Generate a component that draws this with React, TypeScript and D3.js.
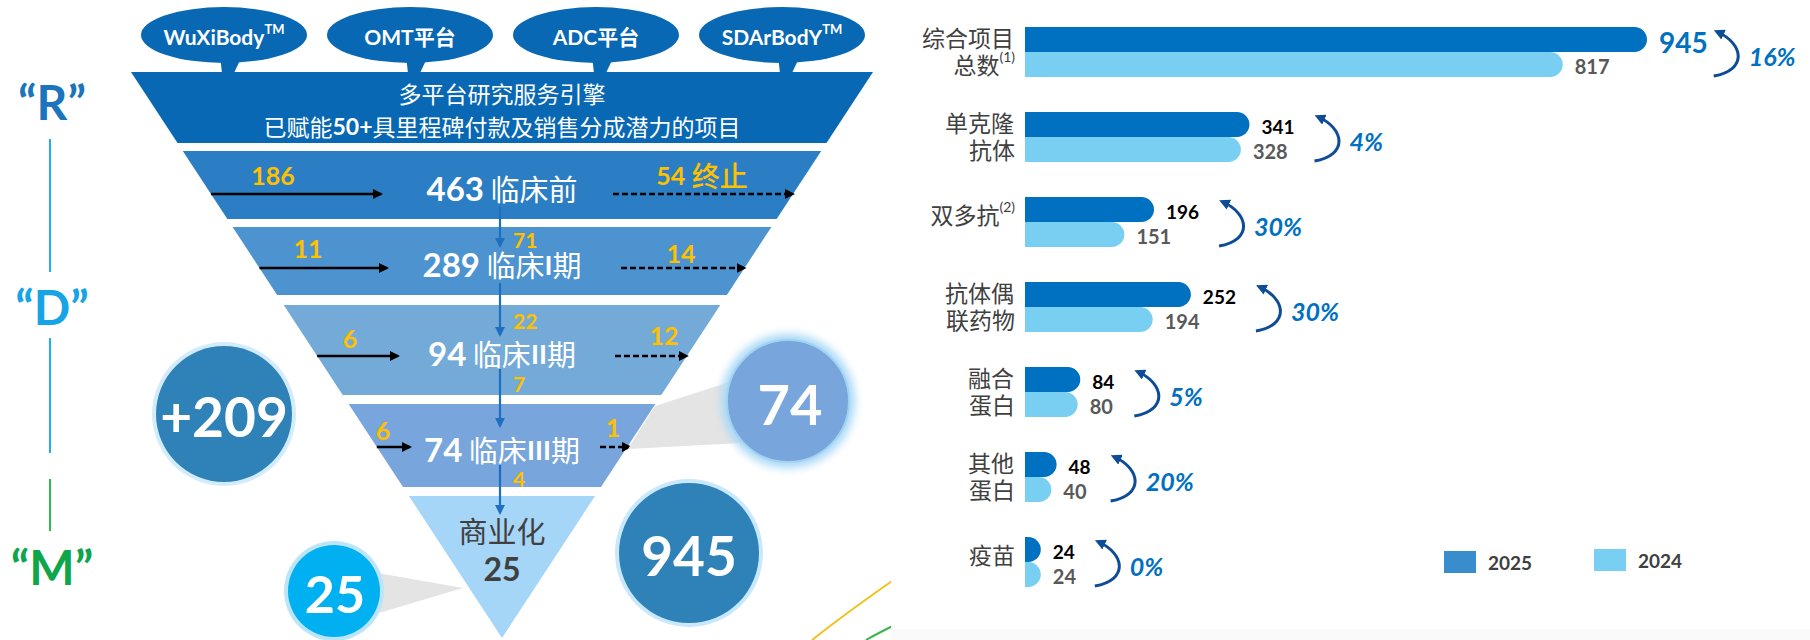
import React from 'react';
import * as d3 from 'd3';

// ---------- data ----------
const categories = ['综合项目总数', '单克隆抗体', '双多抗', '抗体偶联药物', '融合蛋白', '其他蛋白', '疫苗'];
const categoryLines = [['综合项目', '总数'], ['单克隆', '抗体'], ['双多抗'], ['抗体偶', '联药物'], ['融合', '蛋白'], ['其他', '蛋白'], ['疫苗']];
const categoryNotes = ['(1)', '', '(2)', '', '', '', ''];
const values2025 = [945, 341, 196, 252, 84, 48, 24];
const values2024 = [817, 328, 151, 194, 80, 40, 24];
const growthLabels = ['16%', '4%', '30%', '30%', '5%', '20%', '0%'];
const legendLabels = ['2025', '2024'];

const platforms = ['WuXiBody', 'OMT平台', 'ADC平台', 'SDArBodY'];
const platformMarks = ['TM', '', '', 'TM'];
const engineLine1 = '多平台研究服务引擎';
const engineLine2 = ['已赋能', '50+', '具里程碑付款及销售分成潜力的项目'];
const stageNames = ['临床前', '临床I期', '临床II期', '临床III期'];
const stageCounts = [463, 289, 94, 74];
const stageIn = ['186', '11', '6', '6'];
const stageOutNum = ['54', '14', '12', '1'];
const stageOutNote = ['终止', '', '', ''];
const stageAdvance = ['71', '22', '7', '4'];
const commercialLabel = '商业化';
const commercialCount = '25';
const rdmLetters = ['“R”', '“D”', '“M”'];
const bubbleValues = ['+209', '74', '945', '25'];

const FONT = "Lato, 'Noto Sans CJK SC', sans-serif";
const CJK = "'Noto Sans CJK SC', Lato, sans-serif";

function roundedRight(x0: number, y0: number, w: number, h: number, r0: number) {
  const r = Math.max(0, Math.min(r0, w, h / 2));
  return `M${x0},${y0}H${x0 + w - r}A${r},${r} 0 0 1 ${x0 + w},${y0 + r}V${y0 + h - r}A${r},${r} 0 0 1 ${x0 + w - r},${y0 + h}H${x0}Z`;
}

export default function App() {
  // ---------- funnel geometry ----------
  const cx = 502;
  const leftEdge = d3.scaleLinear().domain([72, 638]).range([131, cx]);
  const rightEdge = (yy: number) => 2 * cx - leftEdge(yy);
  const bands: [number, number][] = [[72, 143], [151, 219], [227, 295], [305, 395], [404, 487]];
  const bandColors = ['#0868B3', '#2B7EC3', '#4C93CF', '#73AAD7', '#78A5DC'];
  const tri: [number, number] = [496, 638];
  const trap = (y0: number, y1: number) =>
    `M${leftEdge(y0)},${y0}L${rightEdge(y0)},${y0}L${rightEdge(y1)},${y1}L${leftEdge(y1)},${y1}Z`;

  const bubbleX = d3.scalePoint<string>().domain(platforms).range([224, 782]);

  // stage layout (arrow rows / label anchors)
  const rowY = [194, 268, 356, 447];
  const inEnd = [381, 387, 398, 410];
  const inLabelX = [273, 308, 350, 383];
  const inLabelY = [175, 248, 338, 430];
  const outStart = [613, 621, 615, 600];
  const outLabelX = [702, 681, 664, 613];
  const outLabelY = [175, 253, 335, 427];
  const advY = [239, 320, 383, 478];
  const downSeg: [number, number][] = [[207, 246], [283, 335], [369, 426], [465, 513]];

  // ---------- bar chart ----------
  const x = d3.scaleLinear().domain([0, d3.max(values2025) as number]).range([1025, 1647]);
  const y = d3.scaleBand<string>().domain(categories).range([27, 587]).paddingInner(35 / 85).paddingOuter(0);
  const bh = y.bandwidth() / 2;

  return (
    <svg width={1810} height={640} style={{ position: 'absolute', left: 0, top: 0, display: 'block' }} fontFamily={FONT}>
      <defs>
        <marker id="ahBlack" viewBox="0 0 10 10" refX="8" refY="5" markerWidth="4" markerHeight="4" orient="auto">
          <path d="M0,0L10,5L0,10Z" fill="#000" />
        </marker>
        <marker id="ahBlue" viewBox="0 0 10 10" refX="8" refY="5" markerWidth="4.5" markerHeight="4.5" orient="auto">
          <path d="M0,0L10,5L0,10Z" fill="#1E6FBF" />
        </marker>
        <marker id="ahNavy" viewBox="0 0 10 10" refX="6" refY="5" markerWidth="3.6" markerHeight="3.6" orient="auto">
          <path d="M0,0L10,5L0,10Z" fill="#0E4C97" />
        </marker>
        <filter id="glow" x="-30%" y="-30%" width="160%" height="160%">
          <feGaussianBlur stdDeviation="4" />
        </filter>
      </defs>
      <rect x={0} y={0} width={1810} height={640} fill="#fff" />

      {/* R / D / M */}
      <text x={52} y={101} textAnchor="middle" dominantBaseline="central" fontSize={48} fontWeight={700} fill="#1C75BC">{rdmLetters[0]}</text>
      <line x1={50} x2={50} y1={139} y2={272} stroke="#22AFEB" strokeWidth={2} />
      <text x={52} y={306} textAnchor="middle" dominantBaseline="central" fontSize={48} fontWeight={700} fill="#17A4E6">{rdmLetters[1]}</text>
      <line x1={50} x2={50} y1={338} y2={453} stroke="#22AFEB" strokeWidth={2} />
      <line x1={50} x2={50} y1={479} y2={531} stroke="#2DBB4E" strokeWidth={2} />
      <text x={52} y={566} textAnchor="middle" dominantBaseline="central" fontSize={48} fontWeight={700} fill="#0FA64B">{rdmLetters[2]}</text>

      {/* decorative curves under panel */}
      <path d="M812,640 Q850,610 905,572" fill="none" stroke="#F2C21B" strokeWidth={2} />
      <path d="M866,640 Q880,632 905,620" fill="none" stroke="#3BB54A" strokeWidth={2} />

      {/* platform bubbles */}
      {platforms.map((p, i) => {
        const bx = bubbleX(p) as number;
        return (
          <g key={p}>
            <path d={`M${bx - 4},56L${bx + 18},56L${bx + 10},73L${bx - 2},73Z`} fill="#0868B3" />
            <ellipse cx={bx} cy={35} rx={83} ry={28} fill="#0868B3" />
            <text x={bx} y={36} textAnchor="middle" dominantBaseline="central" fill="#fff" fontSize={21} fontWeight={700}>
              {p}
              {platformMarks[i] && <tspan fontSize={13} dy={-7}>{platformMarks[i]}</tspan>}
            </text>
          </g>
        );
      })}

      {/* funnel bands */}
      {bands.map((b, i) => (
        <path key={i} d={trap(b[0], b[1])} fill={bandColors[i]} />
      ))}
      <path d={`M${leftEdge(tri[0])},${tri[0]}L${rightEdge(tri[0])},${tri[0]}L${cx},${tri[1]}Z`} fill="#A5D5F7" />

      {/* engine text */}
      <text x={cx} y={93} textAnchor="middle" dominantBaseline="central" fill="#fff" fontSize={23} fontFamily={CJK}>{engineLine1}</text>
      <text x={cx} y={126} textAnchor="middle" dominantBaseline="central" fill="#fff" fontSize={23} fontFamily={CJK}>
        {engineLine2[0]}<tspan fontFamily={FONT} fontWeight={700}>{engineLine2[1]}</tspan>{engineLine2[2]}
      </text>

      {/* stage rows */}
      {stageNames.map((s, i) => {
        const b = bands[i + 1];
        const ry = rowY[i];
        return (
          <g key={s}>
            <line x1={leftEdge(ry)} x2={inEnd[i]} y1={ry} y2={ry} stroke="#000" strokeWidth={2.5} markerEnd="url(#ahBlack)" />
            <line x1={outStart[i]} x2={Math.max(outStart[i] + 30, rightEdge(ry))} y1={ry} y2={ry} stroke="#000" strokeWidth={2.5} strokeDasharray="6 3" markerEnd="url(#ahBlack)" />
            <line x1={cx - 2} x2={cx - 2} y1={downSeg[i][0]} y2={downSeg[i][1]} stroke="#1E6FBF" strokeWidth={2.2} markerEnd="url(#ahBlue)" />
            <text x={cx} y={(b[0] + b[1]) / 2 + 3} textAnchor="middle" dominantBaseline="central" fill="#fff">
              <tspan fontSize={33} fontWeight={700}>{stageCounts[i]}</tspan>
              <tspan fontSize={29} fontFamily={CJK}>{' '}</tspan>
              {s.split('').map((c, k) => (
                <tspan key={k} fontSize={/[I]/.test(c) ? 27 : 29} fontWeight={/[I]/.test(c) ? 700 : 400} fontFamily={/[I]/.test(c) ? FONT : CJK}>{c}</tspan>
              ))}
            </text>
            <text x={inLabelX[i]} y={inLabelY[i]} textAnchor="middle" dominantBaseline="central" fill="#FFC000" fontSize={25} fontWeight={700}>{stageIn[i]}</text>
            <text x={outLabelX[i]} y={outLabelY[i]} textAnchor="middle" dominantBaseline="central" fill="#FFC000" fontSize={25} fontWeight={700}>
              {stageOutNum[i]}
              {stageOutNote[i] && <tspan fontFamily={CJK} fontSize={28} fontWeight={500}>{' ' + stageOutNote[i]}</tspan>}
            </text>
            <text x={513} y={advY[i]} dominantBaseline="central" fill="#FFC000" fontSize={21} fontWeight={700}>{stageAdvance[i]}</text>
          </g>
        );
      })}

      {/* commercialization */}
      <text x={cx} y={530} textAnchor="middle" dominantBaseline="central" fill="#404040" fontSize={29} fontFamily={CJK}>{commercialLabel}</text>
      <text x={cx} y={568} textAnchor="middle" dominantBaseline="central" fill="#404040" fontSize={32} fontWeight={700}>{commercialCount}</text>

      {/* callouts */}
      <path d="M628,449 L655,406 L760,372 L760,442 Z" fill="#E4E4E4" />
      <path d="M372,572 L463,588 L372,615 Z" fill="#E4E4E4" />

      <circle cx={224} cy={414} r={72} fill="#D3ECFB" />
      <circle cx={224} cy={414} r={68} fill="#2F82B8" />
      <text x={224} y={416} textAnchor="middle" dominantBaseline="central" fill="#fff" fontSize={55} fontWeight={700}>{bubbleValues[0]}</text>

      <circle cx={788} cy={401} r={67} fill="#A9D8F6" filter="url(#glow)" />
      <circle cx={788} cy={401} r={61} fill="#78A5DC" stroke="#A2D2F2" strokeWidth={2} />
      <text x={790} y={403} textAnchor="middle" dominantBaseline="central" fill="#fff" fontSize={56} fontWeight={700}>{bubbleValues[1]}</text>

      <circle cx={689} cy={553} r={74} fill="#C9E8FB" />
      <circle cx={689} cy={553} r={70} fill="#2F82B8" />
      <text x={689} y={555} textAnchor="middle" dominantBaseline="central" fill="#fff" fontSize={55} fontWeight={700}>{bubbleValues[2]}</text>

      <circle cx={334} cy={591} r={50} fill="#BCE5FA" />
      <circle cx={334} cy={591} r={46} fill="#00B0F0" />
      <text x={335} y={593} textAnchor="middle" dominantBaseline="central" fill="#fff" fontSize={52} fontWeight={700}>{bubbleValues[3]}</text>

      {/* right panel */}
      <rect x={891} y={0} width={919} height={640} fill="#fff" />
      <rect x={891} y={629} width={919} height={11} fill="#FAFAFA" />

      {categories.map((c, i) => {
        const gy = y(c) as number;
        const v5 = values2025[i];
        const v4 = values2024[i];
        const first = i === 0;
        const fs5 = first ? 28 : 19;
        const lw = String(v5).length * 0.58 * fs5;
        const ax = x(v5) + 12 + lw + (first ? 6 : 20);
        const yTop = gy + 3;
        const yBot = gy + 49;
        const lines = categoryLines[i];
        return (
          <g key={c}>
            <path d={roundedRight(x(0), gy + bh, x(v4) - x(0), bh, bh / 2)} fill="#79CFF2" />
            <path d={roundedRight(x(0), gy, x(v5) - x(0), bh, bh / 2)} fill="#0070C0" />
            <text x={x(v5) + 12} y={gy + bh / 2 + 2} dominantBaseline="central" fontSize={fs5} fontWeight={700} fill={first ? '#0070C0' : '#000'}>{v5}</text>
            <text x={x(v4) + 12} y={gy + bh * 1.5 + 1} dominantBaseline="central" fontSize={20} fontWeight={700} fill="#595959">{v4}</text>
            <path d={`M${ax},${yBot} C${ax + 34},${yBot - 6} ${ax + 30},${yTop + 14} ${ax + 4},${yTop + 2}`} fill="none" stroke="#0E4C97" strokeWidth={3} markerEnd="url(#ahNavy)" />
            <text x={ax + 35} y={gy + 29} dominantBaseline="central" fontSize={25} fontWeight={700} fontStyle="italic" fill="#0070C0">{growthLabels[i]}</text>
            {lines.length === 2 ? (
              <>
                <text x={1014} y={gy + 10} textAnchor="end" dominantBaseline="central" fontSize={23} fill="#404040" fontFamily={CJK}>{lines[0]}</text>
                <text x={1015} y={gy + 37} textAnchor="end" dominantBaseline="central" fontSize={23} fill="#404040" fontFamily={CJK}>
                  {lines[1]}{categoryNotes[i] && <tspan fontSize={14} dy={-8} fontFamily={FONT}>{categoryNotes[i]}</tspan>}
                </text>
              </>
            ) : (
              <text x={1015} y={gy + 17} textAnchor="end" dominantBaseline="central" fontSize={23} fill="#404040" fontFamily={CJK}>
                {lines[0]}{categoryNotes[i] && <tspan fontSize={14} dy={-8} fontFamily={FONT}>{categoryNotes[i]}</tspan>}
              </text>
            )}
          </g>
        );
      })}

      {/* legend */}
      {legendLabels.map((l, i) => {
        const lx = [1444, 1594][i];
        const ly = [551, 549][i];
        return (
          <g key={l}>
            <rect x={lx} y={ly} width={32} height={22} fill={i === 0 ? '#3A8DCD' : '#79CFF2'} />
            <text x={lx + 44} y={ly + 11} dominantBaseline="central" fontSize={19} fontWeight={700} fill="#404040">{l}</text>
          </g>
        );
      })}
    </svg>
  );
}
